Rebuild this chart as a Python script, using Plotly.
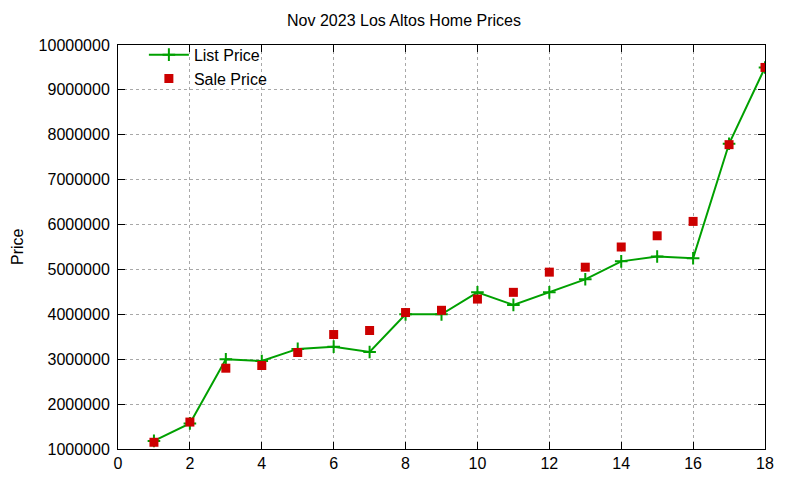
import plotly.graph_objects as go

# data
homes = list(range(1, 19))
list_price = [1180000, 1570000, 3000000, 2960000, 3230000, 3280000, 3160000, 4000000, 4000000,
              4490000, 4210000, 4490000, 4780000, 5180000, 5290000, 5250000, 7800000, 9500000]
sale_price = [1150000, 1600000, 2800000, 2860000, 3150000, 3550000, 3640000, 4040000, 4090000,
              4340000, 4490000, 4940000, 5050000, 5500000, 5750000, 6070000, 7780000, 9500000]

x_ticks = list(range(0, 19, 2))
y_ticks = list(range(1000000, 10000001, 1000000))

font = dict(family="Liberation Sans, Arial, sans-serif", size=16, color="black")

fig = go.Figure()
fig.add_trace(go.Scatter(
    x=homes, y=list_price, mode="lines+markers", name="List Price",
    line=dict(color="#00a000", width=2),
    marker=dict(symbol="cross-thin", size=9, line=dict(color="#00a000", width=2)),
))
fig.add_trace(go.Scatter(
    x=homes, y=sale_price, mode="markers", name="Sale Price",
    marker=dict(symbol="square", size=9, color="#cc0000"),
))

axis_common = dict(
    showline=True, linecolor="black", linewidth=1, mirror="ticks",
    ticks="inside", ticklen=7, tickcolor="black",
    showgrid=True, gridcolor="#a8a8a8", griddash="dot", gridwidth=1,
    zeroline=False, tickfont=font, automargin=False,
)

# the page body has an 8px margin, so the figure is sized and offset to fit the window
fig.update_layout(
    width=792, height=472,
    paper_bgcolor="white", plot_bgcolor="white",
    font=font,
    title=dict(text="Nov 2023 Los Altos Home Prices", x=0.5, xanchor="center",
               y=0.9746, yanchor="middle", font=dict(size=16)),
    margin=dict(l=110, r=35, t=37, b=31, pad=0),
    xaxis=dict(range=[0, 18], tickvals=x_ticks, **axis_common),
    yaxis=dict(range=[1000000, 10000000], tickvals=y_ticks, tickformat="d",
               ticklabelstandoff=4, **axis_common),
    legend=dict(x=0.04, y=1.018, xanchor="left", yanchor="top",
                bgcolor="rgba(0,0,0,0)", font=font, tracegroupgap=0,
                itemwidth=40),
    showlegend=True,
)

# y axis title placed like gnuplot's ylabel
fig.add_annotation(text="Price", textangle=-90, xref="paper", yref="paper",
                   x=-0.1561, y=0.5, xanchor="center", yanchor="middle",
                   showarrow=False, font=font)

fig.write_html("out.html")
